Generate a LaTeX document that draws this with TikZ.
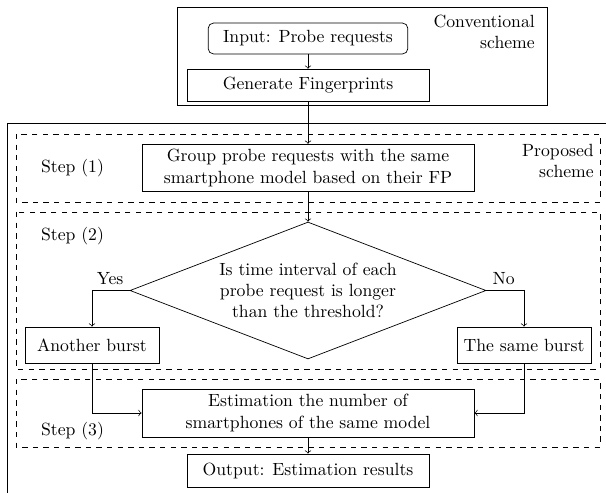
\documentclass[tikz,border=0pt]{standalone}
\usetikzlibrary{shapes.geometric}
\tikzset{
    block/.style={draw, rectangle, align=center, inner sep=0pt},
    startblock/.style={block, rounded corners=3pt},
    decision/.style={draw, diamond, aspect=2.6, align=center, inner sep=0pt},
    stepbox/.style={draw, dashed},
}
\begin{document}
\begin{tikzpicture}[x=0.566pt, y=-0.566pt]
        \useasboundingbox (0,0) rectangle (606,493);
        % conventional scheme
        \draw (177,7) rectangle (547,105);
        \node [align=right, anchor=east] (conv) at (541,32) {Conventional\\scheme};
        \node [startblock, minimum width=113pt, minimum height=17.5pt] (in) at (308,38.5) {Input: Probe requests};
        \node [block, minimum width=137pt, minimum height=18pt] (fp) at (308,85) {Generate Fingerprints};
        % proposed scheme
        \draw (606,123) -- (7,123) -- (7,493);
        \draw [stepbox] (16,134) rectangle (600,202);
        \draw [stepbox] (16,212) rectangle (600,369);
        \draw [stepbox] (16,379) rectangle (600,447);
        \node [align=right, anchor=east] (prop) at (600,161) {Proposed\\scheme};
        \node (s1) at (72.5,168) {Step (1)};
        \node (s2) at (72.5,236) {Step (2)};
        \node (s3) at (72.5,431) {Step (3)};
        \node [block, minimum width=188pt, minimum height=27pt] (group) at (308,168) {Group probe requests with the same\\smartphone model based on their FP};
        \node [decision, minimum width=201.5pt, minimum height=77.5pt] (dec) at (308,290.5) {Is time interval of each\\probe request is longer\\than the threshold?};
        \node [block, minimum width=76pt, minimum height=20.4pt] (other) at (92,345) {Another burst};
        \node [block, minimum width=76pt, minimum height=20.4pt] (same) at (524,345) {The same burst};
        \node [block, minimum width=188pt, minimum height=27pt] (est) at (308,413) {Estimation the number of\\smartphones of the same model};
        \node [block, minimum width=137pt, minimum height=18.7pt] (out) at (308,470.5) {Output: Estimation results};
        \node [above left] (yes) at (dec.west) {Yes};
        \node [above right] (no) at (dec.east) {No};
        \draw [->] (in) -- (fp);
        \draw [->] (fp) -- (group);
        \draw [->] (group) -- (dec);
        \draw [->] (dec.west) -| (other.north);
        \draw [->] (dec.east) -| (same.north);
        \draw [->] (other.south) |- (est.west);
        \draw [->] (same.south) |- (est.east);
        \draw [->] (est) -- (out);
    \end{tikzpicture}
\end{document}
